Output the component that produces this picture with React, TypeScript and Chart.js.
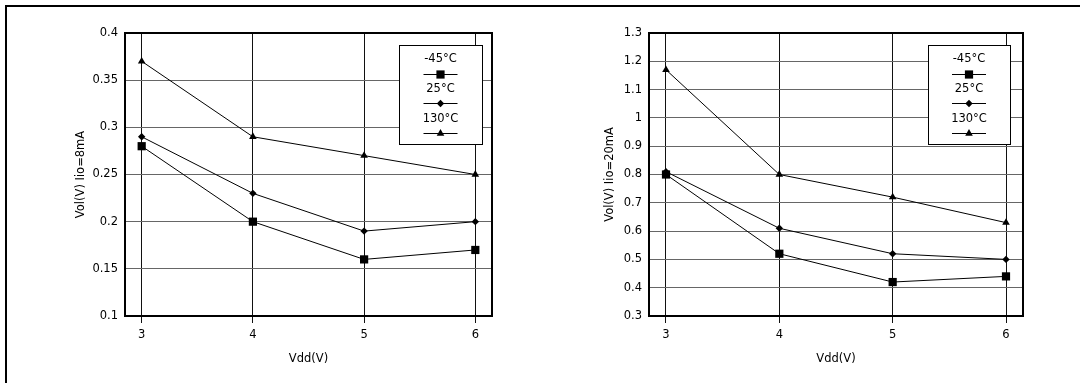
import React, { useEffect, useRef } from 'react';
import { Chart, registerables } from 'chart.js';
import { drawPoint } from 'chart.js/helpers';

Chart.register(...registerables);

// ---- data ----
const vdd = [3, 4, 5, 6];
const xTicks = [3, 4, 5, 6];
const seriesLabels = ['-45°C', '25°C', '130°C'];

const cold8mA = [0.28, 0.2, 0.16, 0.17];
const room8mA = [0.29, 0.23, 0.19, 0.2];
const hot8mA = [0.37, 0.29, 0.27, 0.25];
const yTicks8mA = [0.1, 0.15, 0.2, 0.25, 0.3, 0.35, 0.4];

const cold20mA = [0.8, 0.52, 0.42, 0.44];
const room20mA = [0.81, 0.61, 0.52, 0.5];
const hot20mA = [1.17, 0.8, 0.72, 0.63];
const yTicks20mA = [0.3, 0.4, 0.5, 0.6, 0.7, 0.8, 0.9, 1, 1.1, 1.2, 1.3];

// ---- styles ----
const FONT = "'DejaVu Sans', 'Liberation Sans', Arial, sans-serif";
const FSIZE = 11.5;
const pointStyles = ['rect', 'rectRot', 'triangle'];
const pointRadii = [5.8, 3.7, 4.4];

const frameLegendPlugin = {
  id: 'frameLegend',
  afterDatasetsDraw(chart: any, _args: any, opts: any) {
    const { ctx, chartArea: a } = chart;
    ctx.save();
    ctx.strokeStyle = '#000';
    ctx.lineWidth = 2;
    ctx.strokeRect(a.left, a.top, a.right - a.left, a.bottom - a.top);

    const b = opts.box;
    ctx.fillStyle = '#fff';
    ctx.fillRect(b.x, b.y, b.w, b.h);
    ctx.lineWidth = 1;
    ctx.strokeRect(b.x + 0.5, b.y + 0.5, b.w, b.h);

    const cx = b.x + b.w / 2;
    ctx.font = `${FSIZE}px ${FONT}`;
    ctx.textAlign = 'center';
    ctx.textBaseline = 'middle';
    chart.data.datasets.forEach((ds: any, i: number) => {
      const ty = b.y + 14.5 + i * 29.8;
      const ly = Math.round(b.y + 28.5 + i * 29.8) + 0.5;
      ctx.fillStyle = '#000';
      ctx.fillText(ds.label, cx, ty);
      ctx.beginPath();
      ctx.moveTo(cx - 17, ly);
      ctx.lineTo(cx + 17, ly);
      ctx.strokeStyle = '#000';
      ctx.lineWidth = 1;
      ctx.stroke();
      ctx.fillStyle = '#000';
      drawPoint(ctx, { pointStyle: ds.pointStyle, radius: ds.pointRadius, rotation: 0, borderWidth: 0 } as any, cx, ly);
    });
    ctx.restore();
  },
};

function makeConfig(p: {
  values: number[][];
  yTicks: number[];
  yMin: number;
  yMax: number;
  yTitle: string;
  padLeft: number;
  yWidth: number;
  padRight: number;
  box: { x: number; y: number; w: number; h: number };
}) {
  return {
    type: 'line',
    data: {
      datasets: p.values.map((vals, i) => ({
        label: seriesLabels[i],
        data: vdd.map((x, j) => ({ x, y: vals[j] })),
        borderColor: '#000',
        borderWidth: 1,
        backgroundColor: '#000',
        pointBackgroundColor: '#000',
        pointBorderWidth: 0,
        pointStyle: pointStyles[i],
        pointRadius: pointRadii[i],
        tension: 0,
        fill: false,
      })),
    },
    options: {
      animation: false,
      responsive: false,
      devicePixelRatio: 1,
      layout: { padding: { left: p.padLeft, right: p.padRight, top: 33, bottom: 13 } },
      plugins: {
        legend: { display: false },
        tooltip: { enabled: false },
        frameLegend: { box: p.box },
      },
      scales: {
        x: {
          type: 'linear',
          min: 2.85,
          max: 6.15,
          afterBuildTicks: (scale: any) => {
            scale.ticks = xTicks.map((value) => ({ value }));
          },
          afterFit: (scale: any) => {
            scale.height = 54;
          },
          border: { display: false },
          grid: { color: '#111', lineWidth: 1, drawTicks: true, tickLength: 7 },
          ticks: { color: '#000', font: { size: FSIZE, family: FONT }, padding: 5, maxRotation: 0 },
          title: { display: true, text: 'Vdd(V)', color: '#000', font: { size: FSIZE, family: FONT } },
        },
        y: {
          type: 'linear',
          min: p.yMin,
          max: p.yMax,
          afterBuildTicks: (scale: any) => {
            scale.ticks = p.yTicks.map((value) => ({ value }));
          },
          afterFit: (scale: any) => {
            scale.width = p.yWidth;
          },
          border: { display: false },
          grid: { color: '#666', lineWidth: 1, drawTicks: false },
          ticks: {
            color: '#000',
            font: { size: FSIZE, family: FONT },
            padding: 7,
            callback: (v: any) => String(Number(Number(v).toFixed(2))),
          },
          title: { display: true, text: p.yTitle, color: '#000', font: { size: FSIZE, family: FONT } },
        },
      },
    },
    plugins: [frameLegendPlugin],
  } as any;
}

function VolChart({ left, config }: { left: number; config: any }) {
  const ref = useRef<HTMLCanvasElement>(null);
  useEffect(() => {
    const chart = new Chart(ref.current as HTMLCanvasElement, config);
    return () => chart.destroy();
  }, []);
  return (
    <canvas
      ref={ref}
      width={540}
      height={383}
      style={{ position: 'absolute', left, top: 0, width: 540, height: 383 }}
    />
  );
}

const leftConfig = makeConfig({
  values: [cold8mA, room8mA, hot8mA],
  yTicks: yTicks8mA,
  yMin: 0.1,
  yMax: 0.4,
  yTitle: 'Vol(V) Iio=8mA',
  padLeft: 70,
  yWidth: 55,
  padRight: 48,
  box: { x: 399, y: 45, w: 83, h: 99 },
});

const rightConfig = makeConfig({
  values: [cold20mA, room20mA, hot20mA],
  yTicks: yTicks20mA,
  yMin: 0.3,
  yMax: 1.3,
  yTitle: 'Vol(V) Iio=20mA',
  padLeft: 59,
  yWidth: 50,
  padRight: 57,
  box: { x: 388, y: 45, w: 82, h: 99 },
});

export default function App() {
  return (
    <div style={{ position: 'absolute', left: 0, top: 0, width: 1080, height: 383, background: '#fff', overflow: 'hidden' }}>
      <div style={{ position: 'absolute', left: 5, top: 5, width: 1075, height: 2, background: '#000' }} />
      <div style={{ position: 'absolute', left: 5, top: 5, width: 2, height: 378, background: '#000' }} />
      <VolChart left={0} config={leftConfig} />
      <VolChart left={540} config={rightConfig} />
    </div>
  );
}
